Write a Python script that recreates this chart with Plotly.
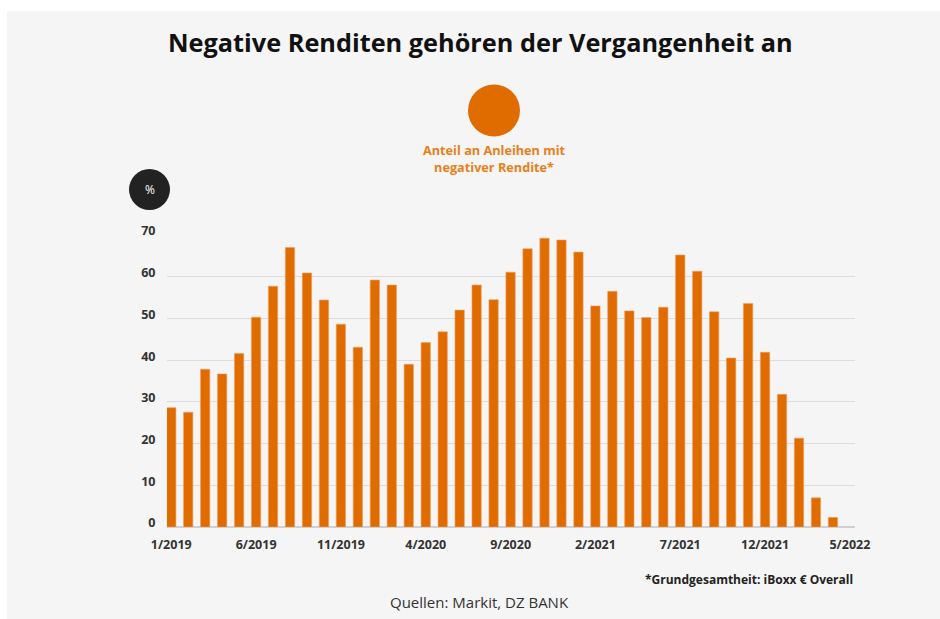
import plotly.graph_objects as go

# ---- data ----
months = [f"{m}/{y}" for y in (2019, 2020, 2021, 2022) for m in range(1, 13)][:41]  # 1/2019 .. 5/2022
share_negative = [
    28.6, 27.5, 37.8, 36.7, 41.6, 50.3, 57.7, 67.0, 60.9, 54.4, 48.6, 43.1,
    59.2, 58.0, 39.0, 44.2, 46.8, 52.0, 58.0, 54.5, 61.1, 66.7, 69.2, 68.8,
    65.9, 53.0, 56.5, 51.8, 50.2, 52.7, 65.2, 61.3, 51.6, 40.5, 53.6, 41.9,
    31.8, 21.3, 7.0, 2.3, None,
]
x_ticks = ["1/2019", "6/2019", "11/2019", "4/2020", "9/2020", "2/2021", "7/2021", "12/2021", "5/2022"]
y_ticks = [0, 10, 20, 30, 40, 50, 60, 70]

ORANGE = "#e06c00"
W, H = 940, 619
L, R, T, B = 167, 855, 235, 527  # plot area in pixels


def px(x):
    return (x - L) / (R - L)


def py(y):
    return (B - y) / (B - T)


fig = go.Figure()
fig.add_trace(go.Bar(
    x=months, y=share_negative,
    marker=dict(color=ORANGE, line=dict(color="#f0a060", width=0.6)),
    width=0.55, showlegend=False, hoverinfo="x+y",
))

fig.update_layout(
    width=W, height=H,
    margin=dict(l=L, r=W - R, t=T, b=H - B, pad=0),
    paper_bgcolor="white", plot_bgcolor="rgba(0,0,0,0)",
    font=dict(family="Open Sans", color="#333"),
    bargap=0.45,
)
fig.update_xaxes(
    type="category", categoryorder="array", categoryarray=months,
    range=[-0.25, 40.3],
    tickmode="array", tickvals=x_ticks, ticktext=[f"<b>{t}</b>" for t in x_ticks],
    tickfont=dict(size=12.5, color="#333"), showgrid=False,
    ticks="outside", ticklen=6, tickcolor="rgba(0,0,0,0)",
    showline=False, zeroline=False,
)
fig.update_yaxes(
    range=[0, 70], tickmode="array", tickvals=y_ticks,
    ticktext=[f"<b>{t}</b>" for t in y_ticks],
    tickfont=dict(size=12.5, color="#333"), gridcolor="#dcdcdc", gridwidth=1,
    zeroline=True, zerolinecolor="#d0d0d0", zerolinewidth=1.5,
    ticks="outside", ticklen=8, tickcolor="rgba(0,0,0,0)", showline=False,
    ticklabelshift=-4,
)

# background panel
fig.add_shape(type="rect", xref="paper", yref="paper", layer="below",
              x0=px(7), x1=px(945), y0=py(625), y1=py(11),
              fillcolor="#f5f5f5", line=dict(width=0))
# legend circle (orange)
fig.add_shape(type="circle", xref="paper", yref="paper", xsizemode="pixel", ysizemode="pixel",
              xanchor=px(494), yanchor=py(110.5), x0=-26, x1=26, y0=-26, y1=26,
              fillcolor=ORANGE, line=dict(width=0))
# % badge
fig.add_shape(type="circle", xref="paper", yref="paper", xsizemode="pixel", ysizemode="pixel",
              xanchor=px(149.5), yanchor=py(189.5), x0=-20.5, x1=20.5, y0=-20.5, y1=20.5,
              fillcolor="#222222", line=dict(width=0))

ann = [
    dict(x=px(480), y=py(42), text="<b>Negative Renditen gehören der Vergangenheit an</b>",
         font=dict(size=25.3, color="#111")),
    dict(x=px(494), y=py(158.5), text="<b>Anteil an Anleihen mit<br>negativer Rendite*</b>",
         font=dict(size=12.7, color="#e8801a")),
    dict(x=px(149.5), y=py(189.5), text="%", font=dict(size=12, color="white")),
    dict(x=px(855), y=py(579), text="<b>*Grundgesamtheit: iBoxx € Overall</b>", xanchor="right",
         font=dict(size=12, color="#222")),
    dict(x=px(479), y=py(602), text="Quellen: Markit, DZ BANK", font=dict(size=15, color="#333")),
]
for a in ann:
    a.setdefault("xanchor", "center")
    fig.add_annotation(xref="paper", yref="paper", yanchor="middle", showarrow=False, **a)

fig.write_html("out.html", config={"displayModeBar": False})

# remove the browser's default body margin so the figure fills the window exactly
with open("out.html", encoding="utf-8") as f:
    html = f.read()
html = html.replace("<head>", "<head><style>html,body{margin:0;padding:0;overflow:hidden;}</style>", 1)
with open("out.html", "w", encoding="utf-8") as f:
    f.write(html)
